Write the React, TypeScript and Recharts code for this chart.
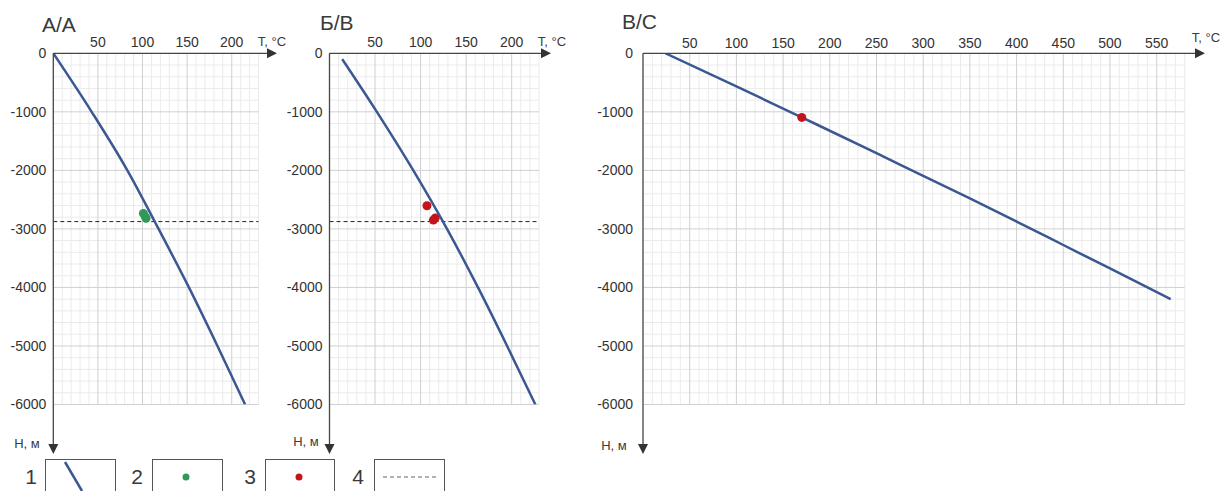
import React from 'react'
import { ComposedChart, Line, Scatter, XAxis, YAxis, CartesianGrid, ReferenceLine } from 'recharts'

// ── Данные (T, °C / H, м) ────────────────────────────────────────────────────

const depthTicks = [0, -1000, -2000, -3000, -4000, -5000, -6000]
const tempTicksAB = [50, 100, 150, 200]
const tempTicksC = [50, 100, 150, 200, 250, 300, 350, 400, 450, 500, 550]

// А/А
const curveTempA = [0, 43, 83, 118, 152, 184, 215]
const curveDepthA = [0, -1000, -2000, -3000, -4000, -5000, -6000]
const pointTempA = [101, 103, 104]
const pointDepthA = [-2735, -2790, -2820]
const dashedDepthA = -2875

// Б/В
const curveTempB = [14, 52, 92, 129, 163, 195, 226]
const curveDepthB = [-100, -1000, -2000, -3000, -4000, -5000, -6000]
const pointTempB = [107, 114, 116]
const pointDepthB = [-2605, -2850, -2815]
const dashedDepthB = -2875

// В/С
const curveTempC = [24, 100, 170, 250, 300, 350, 400, 450, 500, 565]
const curveDepthC = [0, -565, -1095, -1705, -2095, -2480, -2875, -3275, -3675, -4200]
const pointTempC = [170]
const pointDepthC = [-1095]

const LINE_COLOR = '#3b5893'
const GREEN = '#2f9a58'
const RED = '#c3141c'
const FONT = '"Liberation Sans", Arial, sans-serif'

const zip = (t: number[], h: number[]) => t.map((v, i) => ({ t: v, h: h[i] }))

function range(from: number, to: number, step: number) {
  const out: number[] = []
  for (let v = from; v <= to; v += step) out.push(v)
  return out
}

// ── Панель ───────────────────────────────────────────────────────────────────

interface PanelProps {
  left: number
  width: number
  tMax: number
  tTicks: number[]
  margin: { top: number; left: number; right: number; bottom: number }
  curve: { t: number; h: number }[]
  points: { t: number; h: number }[]
  pointColor: string
  dashedDepth?: number
  xTickGap: number
  yTickGap: number
}

const tickStyle = { fill: '#333', fontSize: 14, fontFamily: FONT }

function Panel({ left, width, tMax, tTicks, margin, curve, points, pointColor, dashedDepth, xTickGap, yTickGap }: PanelProps) {
  const minorT = range(10, tMax, 10).filter(v => v % 50 !== 0)
  const majorT = range(50, tMax, 50)
  const minorH = range(-6000, -200, 200).filter(v => v % 1000 !== 0)
  const majorH = range(-6000, -1000, 1000)

  return (
    <div style={{ position: 'absolute', left, top: 0 }}>
      <ComposedChart width={width} height={491} margin={margin}>
        <CartesianGrid verticalValues={minorT} horizontalValues={minorH} stroke="#ebebeb" strokeWidth={1} />
        <CartesianGrid verticalValues={majorT} horizontalValues={majorH} stroke="#d0d0d0" strokeWidth={1} />
        <XAxis
          type="number"
          dataKey="t"
          orientation="top"
          domain={[0, tMax]}
          ticks={tTicks}
          interval={0}
          height={1}
          axisLine={false}
          tickLine={false}
          tickSize={0}
          tickMargin={xTickGap}
          tick={tickStyle}
          allowDataOverflow
        />
        <YAxis
          type="number"
          dataKey="h"
          domain={[-6000, 0]}
          ticks={depthTicks}
          interval={0}
          width={1}
          axisLine={false}
          tickLine={false}
          tickSize={0}
          tickMargin={yTickGap}
          tick={tickStyle}
          allowDataOverflow
        />
        {dashedDepth !== undefined && (
          <ReferenceLine y={dashedDepth} stroke="#222" strokeWidth={1} strokeDasharray="4 3" />
        )}
        <Line
          data={curve}
          dataKey="h"
          type="monotone"
          stroke={LINE_COLOR}
          strokeWidth={2.5}
          dot={false}
          isAnimationActive={false}
        />
        <Scatter
          data={points}
          fill={pointColor}
          isAnimationActive={false}
          shape={(p: any) => <circle cx={p.cx} cy={p.cy} r={4.5} fill={pointColor} />}
        />
      </ComposedChart>
    </div>
  )
}

// ── Оси со стрелками, подписи, легенда ───────────────────────────────────────

function Arrows({ x0, xEnd, yEnd }: { x0: number; xEnd: number; yEnd: number }) {
  const y0 = 53.3
  return (
    <g stroke="#454545" fill="#333">
      <line x1={x0} y1={y0} x2={xEnd - 9} y2={y0} strokeWidth={1.3} />
      <polygon points={`${xEnd - 10},${y0 - 5} ${xEnd},${y0} ${xEnd - 10},${y0 + 5}`} stroke="none" />
      <line x1={x0} y1={y0} x2={x0} y2={yEnd - 9} strokeWidth={1.3} />
      <polygon points={`${x0 - 5},${yEnd - 10} ${x0 + 5},${yEnd - 10} ${x0},${yEnd}`} stroke="none" />
    </g>
  )
}

function Overlay() {
  const label = { fontFamily: FONT, fill: '#3a3a3a' }
  return (
    <svg width={1220} height={491} style={{ position: 'absolute', left: 0, top: 0, pointerEvents: 'none' }}>
      <Arrows x0={53.3} xEnd={277} yEnd={454} />
      <Arrows x0={329.5} xEnd={551} yEnd={454} />
      <Arrows x0={643} xEnd={1205} yEnd={454} />

      <text x={42} y={32} fontSize={21} {...label}>А/А</text>
      <text x={320} y={30} fontSize={21} {...label}>Б/В</text>
      <text x={622} y={29} fontSize={21} {...label}>В/С</text>

      <text x={272} y={46} fontSize={13} textAnchor="middle" {...label}>T, °C</text>
      <text x={552} y={46} fontSize={13} textAnchor="middle" {...label}>T, °C</text>
      <text x={1206} y={42} fontSize={13} textAnchor="middle" {...label}>T, °C</text>

      <text x={27} y={448} fontSize={13} textAnchor="middle" {...label}>H, м</text>
      <text x={306} y={446} fontSize={13} textAnchor="middle" {...label}>H, м</text>
      <text x={614} y={450} fontSize={13} textAnchor="middle" {...label}>H, м</text>

      {/* легенда */}
      <g fontSize={21} textAnchor="middle" {...label}>
        <text x={31} y={484}>1</text>
        <text x={137} y={484}>2</text>
        <text x={250} y={484}>3</text>
        <text x={358} y={484}>4</text>
      </g>
      <g fill="none" stroke="#555" strokeWidth={1}>
        <rect x={45.5} y={459.5} width={70} height={40} />
        <rect x={152.5} y={459.5} width={70} height={40} />
        <rect x={265.5} y={459.5} width={69} height={40} />
        <rect x={374.5} y={459.5} width={70} height={40} />
      </g>
      <line x1={65} y1={462} x2={82} y2={491} stroke={LINE_COLOR} strokeWidth={2.5} />
      <circle cx={186} cy={477} r={3.5} fill={GREEN} />
      <circle cx={299} cy={477} r={3.5} fill={RED} />
      <line x1={383} y1={477} x2={436} y2={477} stroke="#666" strokeWidth={1} strokeDasharray="4 3" />
    </svg>
  )
}

export default function App() {
  return (
    <div style={{ position: 'absolute', left: 0, top: 0, width: 1220, height: 491, background: '#fff', overflow: 'hidden' }}>
      <Panel
        left={0}
        width={300}
        tMax={230}
        tTicks={tempTicksAB}
        margin={{ top: 52.3, left: 52.3, right: 41.5, bottom: 86.5 }}
        curve={zip(curveTempA, curveDepthA)}
        points={zip(pointTempA, pointDepthA)}
        pointColor={GREEN}
        dashedDepth={dashedDepthA}
        xTickGap={6}
        yTickGap={7}
      />
      <Panel
        left={280}
        width={300}
        tMax={230}
        tTicks={tempTicksAB}
        margin={{ top: 52.3, left: 48.5, right: 41, bottom: 86.5 }}
        curve={zip(curveTempB, curveDepthB)}
        points={zip(pointTempB, pointDepthB)}
        pointColor={RED}
        dashedDepth={dashedDepthB}
        xTickGap={6}
        yTickGap={7}
      />
      <Panel
        left={580}
        width={640}
        tMax={580}
        tTicks={tempTicksC}
        margin={{ top: 52.3, left: 62, right: 35.3, bottom: 86.5 }}
        curve={zip(curveTempC, curveDepthC)}
        points={zip(pointTempC, pointDepthC)}
        pointColor={RED}
        xTickGap={5}
        yTickGap={10}
      />
      <Overlay />
    </div>
  )
}
